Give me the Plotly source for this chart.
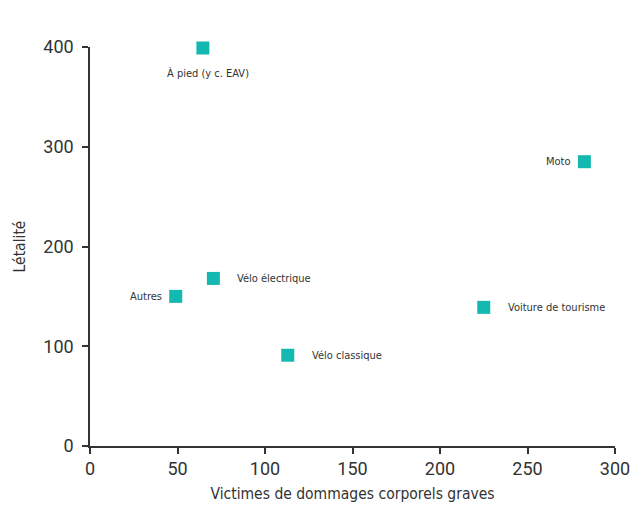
import plotly.graph_objects as go

categories = ["À pied (y c. EAV)", "Moto", "Vélo électrique", "Autres", "Voiture de tourisme", "Vélo classique"]
victimes = [64.5, 282.5, 70.5, 49, 225, 113]
letalite = [399, 285, 168, 150, 139, 91]

FONT = "DejaVu Sans Condensed, Liberation Sans Narrow, Roboto, sans-serif"
TICKFONT = "Roboto, sans-serif"
COLOR = "#13B9B1"

fig = go.Figure()
fig.add_trace(go.Scatter(
    x=victimes, y=letalite, mode="markers", cliponaxis=False,
    marker=dict(symbol="square", size=13, color=COLOR, line=dict(width=0)),
    hoverinfo="skip", showlegend=False,
))

# label placement: (xanchor, yanchor, xshift, yshift)
placement = {
    "À pied (y c. EAV)": ("center", "middle", 5, -25),
    "Moto": ("right", "middle", -11, 0),
    "Vélo électrique": ("left", "middle", 22, 0),
    "Autres": ("right", "middle", -12, 0),
    "Voiture de tourisme": ("left", "middle", 22, 0),
    "Vélo classique": ("left", "middle", 22, 0),
}
for c, x, y in zip(categories, victimes, letalite):
    xa, ya, xs, ys = placement[c]
    fig.add_annotation(x=x, y=y, text=c, showarrow=False, xanchor=xa, yanchor=ya,
                       xshift=xs, yshift=ys, font=dict(family=FONT, size=11, color="#333333"))

axis_common = dict(showgrid=False, zeroline=False, showline=True, linecolor="#333333", linewidth=1.5,
                   ticks="outside", ticklen=6, tickcolor="#333333", tickwidth=1.5, automargin=False,
                   tickfont=dict(family=TICKFONT, size=18, color="#333333"),
                   title_font=dict(family=FONT, size=15.5, color="#333333"))

fig.update_xaxes(range=[0, 300], dtick=50, title_text="Victimes de dommages corporels graves",
                 title_standoff=10, **axis_common)
fig.update_yaxes(range=[0, 400], dtick=100, title_text="Létalité", title_standoff=14,
                 ticklabelstandoff=5, **axis_common)

fig.update_layout(
    width=631, height=517,
    margin=dict(l=90, r=16, t=47, b=71),
    plot_bgcolor="white", paper_bgcolor="white",
)
fig.write_html("out.html", post_script="document.body.style.margin='0';",
               config={"displayModeBar": False})
